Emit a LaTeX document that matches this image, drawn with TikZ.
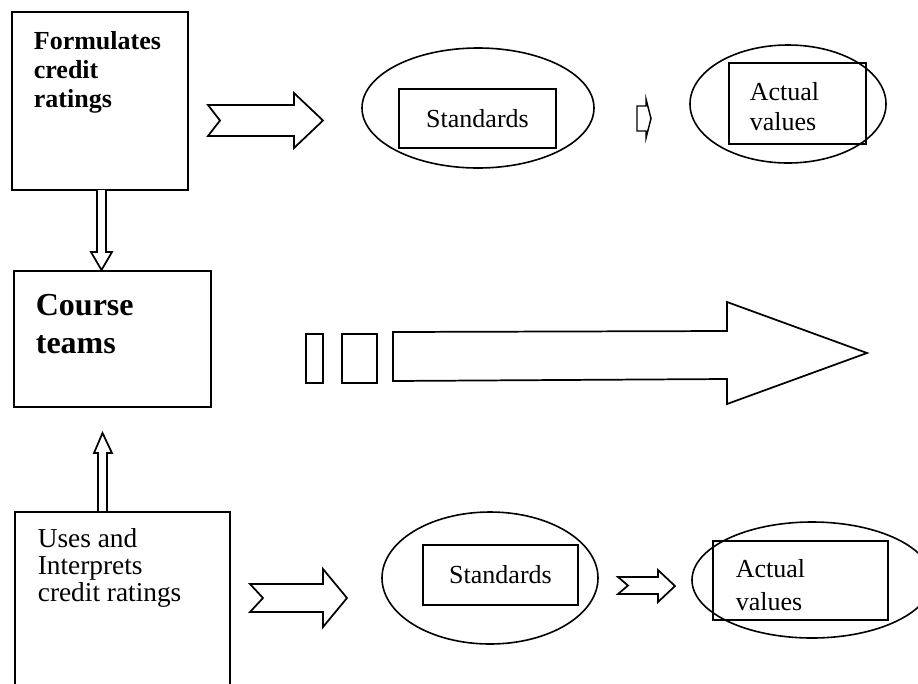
\documentclass[tikz,border=0pt]{standalone}
\usepackage{fontspec}
\setmainfont{Liberation Serif}
\usetikzlibrary{shapes.geometric,fit}
\begin{document}
\begin{tikzpicture}[x=0.75pt,y=-0.75pt,
  line width=1.3pt, line join=miter,
  boxnode/.style={draw, rectangle, inner sep=0pt, line width=1.3pt},
  ovalnode/.style={draw, ellipse, inner sep=0pt, line width=1.2pt},
  blockarrow/.style={draw, fill=white, line width=1.3pt, line join=miter},
  boldtxt/.style={anchor=base west, inner sep=0pt, font=\bfseries\fontsize{19.5}{22}\selectfont},
  coursetxt/.style={anchor=base west, inner sep=0pt, font=\bfseries\fontsize{24}{27}\selectfont},
  plaintxt/.style={anchor=base west, inner sep=0pt, font=\fontsize{20.5}{23}\selectfont},
  smalltxt/.style={inner sep=0pt, font=\fontsize{19.5}{22}\selectfont}]
\useasboundingbox (0,0) rectangle (918,683);
\fill[white] (0,0) rectangle (918,683);

% ---------- top row ----------
\node[boxnode, fit={(12,12) (188,190)}] (formbox) {};
\node[boldtxt] (form1) at (33,49) {Formulates};
\node[boldtxt] (form2) at (33,78) {credit};
\node[boldtxt] (form3) at (33,107) {ratings};

\draw[blockarrow] (208,105) -- (294,105) -- (294,93) -- (323,120.5) -- (294,148) -- (294,136) -- (208,136) -- (220,120.5) -- cycle;

\node[ovalnode, minimum width=232*0.75pt, minimum height=120*0.75pt] (stdoval1) at (478,108) {};
\node[boxnode, fit={(399,89) (556,148)}] (stdbox1) {};
\node[smalltxt] (stdtxt1) at (stdbox1.center) {Standards};

\draw[blockarrow, line width=1.1pt] (637,106) -- (646,106) -- (646,99) -- (651,118.5) -- (646,138) -- (646,131) -- (637,131) -- cycle;

\node[ovalnode, minimum width=196*0.75pt, minimum height=118*0.75pt] (actoval1) at (788,104) {};
\node[boxnode, fit={(729,63) (866,144)}] (actbox1) {};
\node[smalltxt, anchor=base west] (act1a) at (749,100) {Actual};
\node[smalltxt, anchor=base west] (act1b) at (749,130) {values};

% ---------- middle row ----------
\draw[blockarrow] (97,190) -- (97,252) -- (91,252) -- (101.5,270) -- (112,252) -- (106,252) -- (106,190);

\node[boxnode, fit={(14,271) (211,407)}] (coursebox) {};
\node[coursetxt] (course1) at (35,315) {Course};
\node[coursetxt] (course2) at (35,353) {teams};

\node[boxnode, fit={(306,334) (323,383)}] (bar1) {};
\node[boxnode, fit={(342,334) (377,383)}] (bar2) {};
\draw[blockarrow] (393,332) -- (727,331) -- (727,302) -- (867,353) -- (727,404) -- (727,379) -- (393,381) -- cycle;

\draw[blockarrow] (98,512) -- (98,453) -- (94,453) -- (102.5,433) -- (112,453) -- (107,453) -- (107,512);

% ---------- bottom row ----------
\coordinate (ubl) at (15,700);
\coordinate (ubr) at (230,700);
\draw[line width=1.3pt] (ubl) -- (15,512) -- (230,512) -- (ubr);
\node[plaintxt] (uses1) at (37,547) {Uses and};
\node[plaintxt] (uses2) at (37,574) {Interprets};
\node[plaintxt] (uses3) at (37,601) {credit ratings};

\draw[blockarrow] (250,584) -- (323,584) -- (323,569) -- (347,598) -- (323,627) -- (323,612) -- (250,612) -- (263,598) -- cycle;

\node[ovalnode, minimum width=216*0.75pt, minimum height=132*0.75pt] (stdoval2) at (490,578) {};
\node[boxnode, fit={(423,545) (578,605)}] (stdbox2) {};
\node[smalltxt] (stdtxt2) at (stdbox2.center) {Standards};

\draw[blockarrow] (618,577) -- (658,577) -- (658,570) -- (675,586) -- (658,602) -- (658,594) -- (618,594) -- (628,585.5) -- cycle;

\node[ovalnode, minimum width=240*0.75pt, minimum height=116*0.75pt] (actoval2) at (812,580) {};
\node[boxnode, fit={(713,541) (888,620)}] (actbox2) {};
\node[smalltxt, anchor=base west] (act2a) at (735,577) {Actual};
\node[smalltxt, anchor=base west] (act2b) at (735,610) {values};
\end{tikzpicture}
\end{document}
